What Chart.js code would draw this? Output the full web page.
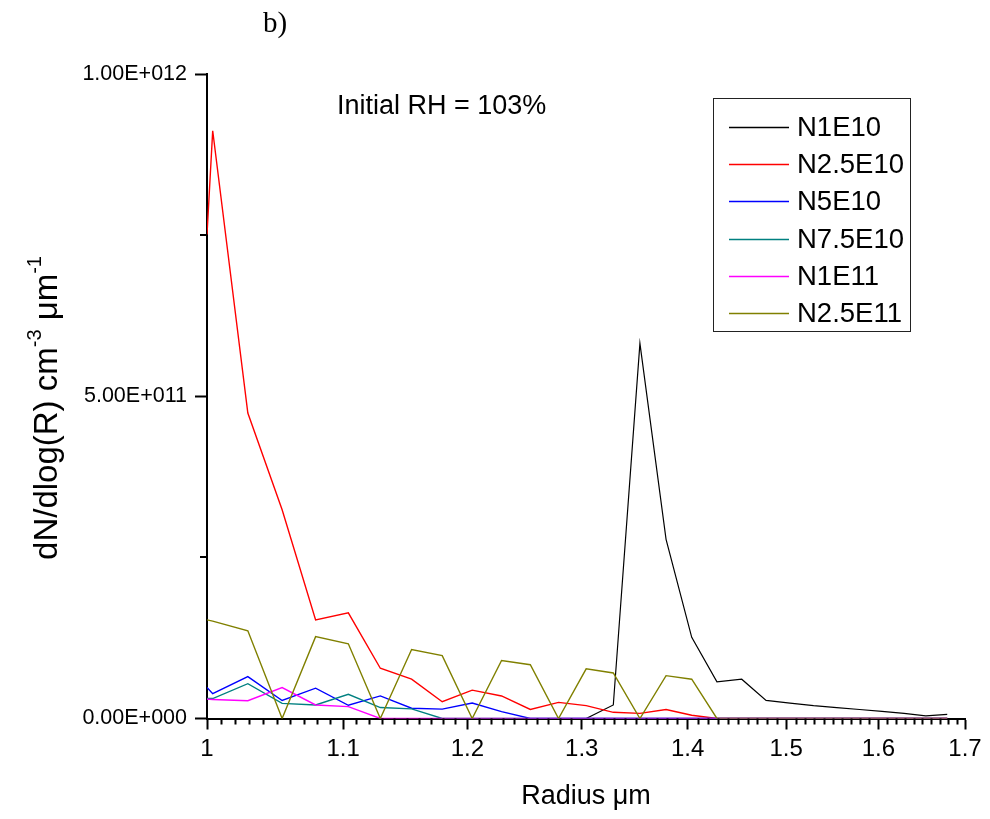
<!DOCTYPE html>
<html>
<head>
<meta charset="utf-8">
<script src="https://cdn.jsdelivr.net/npm/chart.js@4.4.1/dist/chart.umd.min.js"></script>
<style>
  html, body { margin: 0; padding: 0; background: #fff; }
  #wrap { width: 990px; height: 819px; }
</style>
</head>
<body>
<div id="wrap"><canvas id="chart" width="990" height="819"></canvas></div>
<script>
// radius grid (um) shared by every run
const radius = [1.000, 1.004, 1.029, 1.054, 1.079, 1.104, 1.129, 1.154, 1.179, 1.204,
                1.229, 1.254, 1.279, 1.304, 1.329, 1.354, 1.379, 1.404, 1.429, 1.454,
                1.479, 1.504, 1.529, 1.554, 1.579, 1.604, 1.629, 1.654, 1.679];

// dN/dlog(R) per run, cm^-3 um^-1
const n1e10 = [0, 0, 0, 0, 0, 0, 0, 0, 0, 0,
               0, 0, 0, 0, 2.1e10, 5.82e11, 2.78e11, 1.26e11, 5.7e10, 6.1e10,
               2.8e10, 2.4e10, 2.0e10, 1.7e10, 1.4e10, 1.1e10, 0.8e10, 0.4e10, 0.65e10];
const n2_5e10 = [7.51e11, 9.12e11, 4.74e11, 3.24e11, 1.53e11, 1.64e11, 7.8e10, 6.1e10, 2.6e10, 4.4e10,
                 3.5e10, 1.4e10, 2.5e10, 2.0e10, 0.96e10, 0.8e10, 1.4e10, 0.5e10, 0, 0,
                 0, 0, 0, 0, 0, 0, 0, 0, 0];
const n5e10 = [4.8e10, 3.85e10, 6.5e10, 2.8e10, 4.7e10, 2.05e10, 3.5e10, 1.6e10, 1.45e10, 2.4e10,
               1.06e10, 0, 0, 0, 0, 0, 0, 0, 0, 0,
               0, 0, 0, 0, 0, 0, 0, 0, 0];
const n7_5e10 = [3.1e10, 3.1e10, 5.4e10, 2.35e10, 2.1e10, 3.75e10, 1.7e10, 1.5e10, 0, 0,
                 0, 0, 0, 0, 0, 0, 0, 0, 0, 0,
                 0, 0, 0, 0, 0, 0, 0, 0, 0];
const n1e11 = [3.0e10, 2.95e10, 2.75e10, 4.8e10, 2.1e10, 1.85e10, 0, 0, 0, 0,
               0, 0, 0, 0, 0, 0, 0, 0, 0, 0,
               0, 0, 0, 0, 0, 0, 0, 0, 0];
const n2_5e11 = [1.53e11, 1.51e11, 1.36e11, 0, 1.27e11, 1.16e11, 0, 1.07e11, 9.75e10, 0,
                 9.0e10, 8.35e10, 0, 7.7e10, 7.07e10, 0, 6.65e10, 6.1e10, 0, 0,
                 0, 0, 0, 0, 0, 0, 0, 0, 0];

const seriesLabels = ['N1E10', 'N2.5E10', 'N5E10', 'N7.5E10', 'N1E11', 'N2.5E11'];
const seriesValues = [n1e10, n2_5e10, n5e10, n7_5e10, n1e11, n2_5e11];
const seriesColors = ['#000000', '#ff0000', '#0000ff', '#008080', '#ff00ff', '#808000'];

const xTicks = [1, 1.1, 1.2, 1.3, 1.4, 1.5, 1.6, 1.7];
const yTicks = [0, 5e11, 1e12];
const yMinorTicks = [2.5e11, 7.5e11];
const note = 'Initial RH = 103%';
const panel = 'b)';

const FONT = "'Liberation Sans', Arial, sans-serif";

// minor ticks every 0.01 between the labelled ones
const xMinorTicks = [];
for (let i = 101; i < 170; i++) {
    if (i % 10 !== 0) xMinorTicks.push(i / 100);
}

function sciLabel(v) {
    const exp = v === 0 ? 0 : Math.floor(Math.log10(v) + 1e-9);
    const mant = v / Math.pow(10, exp);
    return mant.toFixed(2) + 'E+' + String(exp).padStart(3, '0');
}

const datasets = seriesValues.map((vals, i) => ({
    label: seriesLabels[i],
    data: vals.map((v, j) => ({x: radius[j], y: v})),
    borderColor: seriesColors[i],
    backgroundColor: seriesColors[i],
    borderWidth: i === 0 ? 1.2 : 1.4,
    pointRadius: 0,
    tension: 0,
    fill: false,
    order: -i
}));

const decorations = {
    id: 'decorations',
    afterDraw(chart) {
        const {ctx, chartArea, scales} = chart;
        const x = scales.x, y = scales.y;
        ctx.save();

        // minor ticks
        ctx.strokeStyle = '#000';
        ctx.lineWidth = 2;
        ctx.beginPath();
        xMinorTicks.forEach(v => {
            const px = Math.round(x.getPixelForValue(v)) + 0.5;
            ctx.moveTo(px, chartArea.bottom);
            ctx.lineTo(px, chartArea.bottom + 6);
        });
        yMinorTicks.forEach(v => {
            const py = Math.round(y.getPixelForValue(v));
            ctx.moveTo(chartArea.left, py);
            ctx.lineTo(chartArea.left - 7, py);
        });
        ctx.stroke();

        // panel letter and run note
        ctx.fillStyle = '#000';
        ctx.textBaseline = 'alphabetic';
        ctx.textAlign = 'left';
        ctx.font = "29px 'Liberation Serif', 'Times New Roman', serif";
        ctx.fillText(panel, 263, 32);
        ctx.font = '27px ' + FONT;
        ctx.fillText(note, 337, 114);

        // y axis title with superscripts
        ctx.save();
        ctx.translate(47, 408);
        ctx.rotate(-Math.PI / 2);
        const parts = [
            ['dN/dlog(R) cm', 33, 0],
            ['-3', 20, -13],
            [' \u03bcm', 33, 0],
            ['-1', 20, -13]
        ];
        let total = 0;
        parts.forEach(p => { ctx.font = p[1] + 'px ' + FONT; total += ctx.measureText(p[0]).width; });
        let cx = -total / 2;
        ctx.textBaseline = 'middle';
        parts.forEach(p => {
            ctx.font = p[1] + 'px ' + FONT;
            ctx.fillText(p[0], cx, p[2] + 1);
            cx += ctx.measureText(p[0]).width;
        });
        ctx.restore();

        // legend box
        const box = {left: 713, top: 98, right: 910, bottom: 331};
        ctx.strokeStyle = '#222';
        ctx.lineWidth = 1;
        ctx.strokeRect(box.left + 0.5, box.top + 0.5, box.right - box.left, box.bottom - box.top);
        ctx.font = '27.5px ' + FONT;
        ctx.textBaseline = 'middle';
        chart.data.datasets.forEach((ds, i) => {
            const ry = Math.round(127 + i * 37.2) + 0.5;
            ctx.strokeStyle = ds.borderColor;
            ctx.lineWidth = 1.3;
            ctx.beginPath();
            ctx.moveTo(729, ry);
            ctx.lineTo(789, ry);
            ctx.stroke();
            ctx.fillStyle = '#000';
            ctx.fillText(ds.label, 797, ry + 1);
        });
        ctx.restore();
    }
};

new Chart(document.getElementById('chart'), {
    type: 'line',
    data: {datasets: datasets},
    options: {
        responsive: false,
        animation: false,
        events: [],
        layout: {padding: {left: 0, top: 74, right: 25, bottom: 0}},
        plugins: {
            legend: {display: false},
            tooltip: {enabled: false},
            title: {display: false}
        },
        scales: {
            x: {
                type: 'logarithmic',
                min: 1,
                max: 1.7,
                afterBuildTicks: scale => { scale.ticks = xTicks.map(v => ({value: v})); },
                afterFit: scale => { scale.height = 100.5; },
                grid: {drawOnChartArea: false, drawTicks: true, tickLength: 11, tickWidth: 2, tickColor: '#000'},
                border: {display: true, color: '#000', width: 2},
                ticks: {
                    color: '#000',
                    font: {family: FONT, size: 24},
                    padding: 5,
                    maxRotation: 0,
                    autoSkip: false,
                    callback: v => String(Math.round(v * 10) / 10)
                },
                title: {
                    display: true,
                    text: 'Radius \u03bcm',
                    color: '#000',
                    font: {family: FONT, size: 27},
                    padding: {top: 0, bottom: 6}
                }
            },
            y: {
                type: 'linear',
                min: 0,
                max: 1e12,
                afterBuildTicks: scale => { scale.ticks = yTicks.map(v => ({value: v})); },
                afterFit: scale => { scale.width = 207; },
                grid: {drawOnChartArea: false, drawTicks: true, tickLength: 12, tickWidth: 2, tickColor: '#000'},
                border: {display: true, color: '#000', width: 2},
                ticks: {
                    color: '#000',
                    font: {family: FONT, size: 21.5},
                    padding: 8,
                    callback: v => sciLabel(v)
                }
            }
        }
    },
    plugins: [decorations]
});
</script>
</body>
</html>
